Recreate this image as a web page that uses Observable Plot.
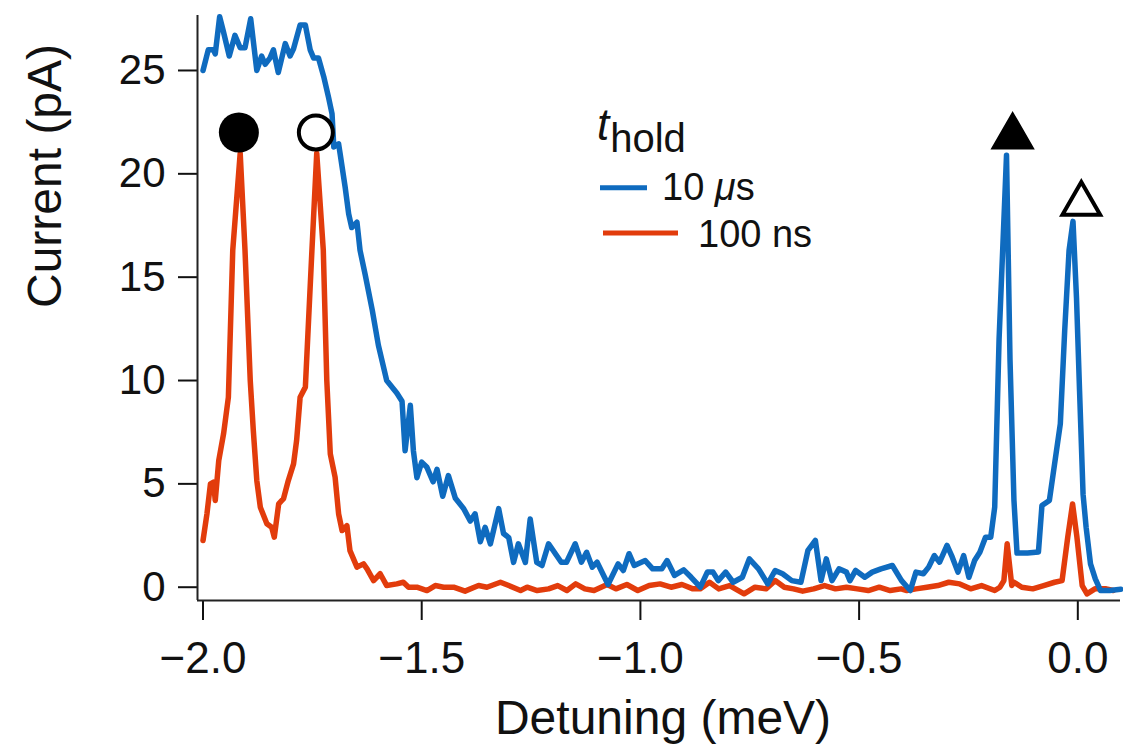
<!DOCTYPE html>
<html>
<head>
<meta charset="utf-8">
<script src="https://cdn.jsdelivr.net/npm/d3@7"></script>
<script src="https://cdn.jsdelivr.net/npm/@observablehq/plot@0.6"></script>
<style>
  html, body { margin: 0; padding: 0; background: #fff; }
  #chart svg { display: block; }
</style>
</head>
<body>
<div id="chart"></div>
<script>
// ---- data ----
const xTicks = [-2.0, -1.5, -1.0, -0.5, 0.0];
const yTicks = [0, 5, 10, 15, 20, 25];
const xDomain = [-2.0126, 0.0976];
const yDomain = [-0.643, 27.66];
const xTitle = "Detuning (meV)";
const yTitle = "Current (pA)";
const seriesNames = ["10 μs", "100 ns"];

// t_hold = 10 µs (blue)
const blueX = [-2.000,-1.988,-1.976,-1.972,-1.962,-1.953,-1.940,-1.927,-1.915,-1.904,-1.891,-1.877,-1.866,-1.858,-1.847,-1.839,-1.828,-1.812,-1.801,-1.793,-1.778,-1.766,-1.755,-1.747,-1.736,-1.724,-1.713,-1.705,-1.701,-1.690,-1.686,-1.675,-1.667,-1.660,-1.648,-1.641,-1.629,-1.613,-1.599,-1.580,-1.557,-1.545,-1.538,-1.526,-1.519,-1.511,-1.500,-1.488,-1.474,-1.465,-1.452,-1.439,-1.423,-1.404,-1.389,-1.378,-1.366,-1.355,-1.343,-1.324,-1.313,-1.301,-1.290,-1.279,-1.263,-1.252,-1.237,-1.225,-1.210,-1.181,-1.169,-1.149,-1.135,-1.123,-1.110,-1.099,-1.074,-1.051,-1.039,-1.026,-1.014,-0.989,-0.972,-0.951,-0.939,-0.922,-0.901,-0.884,-0.863,-0.847,-0.834,-0.822,-0.805,-0.788,-0.767,-0.751,-0.730,-0.709,-0.692,-0.675,-0.654,-0.633,-0.617,-0.600,-0.587,-0.575,-0.562,-0.546,-0.529,-0.521,-0.508,-0.487,-0.470,-0.450,-0.424,-0.403,-0.383,-0.370,-0.353,-0.341,-0.328,-0.316,-0.299,-0.287,-0.274,-0.261,-0.249,-0.236,-0.224,-0.211,-0.199,-0.190,-0.180,-0.163,-0.155,-0.146,-0.139,-0.115,-0.090,-0.082,-0.065,-0.040,-0.030,-0.020,-0.011,-0.003,0.004,0.012,0.019,0.029,0.040,0.052,0.073,0.098];
const blueY = [25.0,26.0,26.0,25.8,27.6,26.85,25.7,26.7,26.1,26.1,27.5,25.0,25.7,25.3,25.6,26.0,24.9,26.3,25.7,26.05,27.2,27.2,26.0,25.6,25.6,24.7,23.7,22.9,21.3,21.45,20.9,19.35,18.06,17.4,17.66,16.3,15.1,13.4,11.7,10.0,9.4,9.0,6.6,8.8,6.6,5.3,6.05,5.8,5.1,5.7,4.4,5.4,4.3,3.8,3.2,3.55,2.2,2.9,2.1,3.8,2.6,2.4,1.2,2.1,1.2,3.3,1.2,1.05,2.1,1.21,1.21,2.1,1.21,1.69,0.97,1.21,0.13,1.13,0.81,1.62,1.05,1.29,0.89,0.89,1.29,0.57,0.84,0.48,0.0,0.73,0.73,0.32,0.73,0.24,0.48,1.37,0.89,0.16,0.81,0.65,0.32,0.24,1.78,2.26,0.32,1.37,0.32,0.89,0.73,0.32,0.81,0.48,0.73,0.89,1.05,0.32,-0.16,0.73,0.65,0.97,1.53,1.21,2.02,1.45,0.73,1.53,0.48,1.29,1.69,2.42,2.42,3.87,12.0,20.9,11.0,4.2,1.65,1.65,1.7,3.95,4.2,7.9,12.4,16.3,17.7,14.0,9.5,4.5,2.9,1.13,0.4,-0.16,-0.16,-0.1];

// t_hold = 100 ns (red)
const redX = [-2.000,-1.991,-1.983,-1.976,-1.972,-1.964,-1.953,-1.942,-1.932,-1.915,-1.904,-1.892,-1.885,-1.877,-1.869,-1.854,-1.843,-1.837,-1.827,-1.816,-1.805,-1.793,-1.786,-1.778,-1.766,-1.751,-1.740,-1.725,-1.717,-1.709,-1.698,-1.690,-1.682,-1.671,-1.664,-1.648,-1.633,-1.625,-1.610,-1.595,-1.580,-1.557,-1.542,-1.530,-1.511,-1.488,-1.469,-1.450,-1.427,-1.401,-1.370,-1.351,-1.320,-1.301,-1.274,-1.259,-1.236,-1.210,-1.189,-1.168,-1.148,-1.127,-1.106,-1.076,-1.056,-1.031,-1.006,-0.980,-0.955,-0.930,-0.905,-0.880,-0.863,-0.842,-0.821,-0.796,-0.763,-0.738,-0.713,-0.692,-0.671,-0.650,-0.629,-0.604,-0.579,-0.554,-0.529,-0.504,-0.479,-0.454,-0.429,-0.404,-0.391,-0.370,-0.345,-0.320,-0.295,-0.270,-0.245,-0.220,-0.190,-0.178,-0.169,-0.1615,-0.151,-0.146,-0.128,-0.103,-0.078,-0.053,-0.036,-0.023,-0.012,-0.002,0.010,0.021,0.039,0.065,0.081];
const redY = [2.26,3.55,5.0,5.08,4.2,6.13,7.42,9.19,16.3,21.0,16.3,10.0,7.58,5.16,3.87,3.07,2.9,2.42,4.03,4.28,5.16,5.97,7.1,9.19,9.68,16.3,21.0,16.3,10.0,6.45,5.32,3.55,2.74,2.98,1.77,0.97,1.13,0.89,0.32,0.65,0.08,0.16,0.24,0.0,0.0,-0.16,0.08,0.0,0.0,-0.19,0.08,0.0,0.24,0.08,-0.16,0.0,-0.16,-0.08,0.08,-0.16,0.16,-0.08,-0.16,0.13,-0.08,0.13,-0.16,0.08,0.16,0.0,0.13,-0.08,-0.08,0.24,-0.08,0.08,-0.32,0.0,-0.08,0.32,0.0,-0.08,-0.19,-0.08,0.08,-0.08,0.0,-0.08,-0.16,0.0,-0.16,-0.08,-0.16,-0.08,0.0,0.08,0.24,0.16,-0.08,0.08,-0.16,0.0,0.32,2.1,0.08,0.24,0.0,-0.08,0.08,0.24,0.32,2.42,4.03,2.42,0.08,-0.32,-0.08,-0.08,-0.16];

// peak markers: filled circle, open circle, filled triangle, open triangle
const markerX = [-1.918, -1.742, -0.149, 0.008];
const markerY = [22.0, 22.0, 21.8, 18.55];

// ---- build tables ----
const blue = blueX.map((x, i) => ({x, y: blueY[i]}));
const red = redX.map((x, i) => ({x, y: redY[i]}));
const markers = markerX.map((x, i) => ({x, y: markerY[i]}));

const BLUE = "#0f6bbf";
const RED = "#e23c0c";
const FONT = "'Liberation Sans', Arial, Helvetica, sans-serif";

const chart = Plot.plot({
  width: 1123,
  height: 744,
  marginLeft: 197,
  marginRight: 3,
  marginTop: 15,
  marginBottom: 144,
  x: {domain: xDomain},
  y: {domain: yDomain},
  style: {fontFamily: FONT, color: "#111", background: "#fff", overflow: "visible"},
  marks: [
    Plot.axisX({ticks: xTicks, tickSize: 20, tickPadding: 21, fontSize: 44, strokeWidth: 2,
      tickFormat: d3.format(".1f"), label: null}),
    Plot.axisY({ticks: yTicks, tickSize: 19, tickPadding: 13, fontSize: 42, strokeWidth: 2,
      tickFormat: d3.format("d"), label: null}),
    Plot.ruleX([xDomain[0]], {y1: yDomain[0], y2: yDomain[1], stroke: "#222", strokeWidth: 2}),
    Plot.ruleY([yDomain[0]], {x1: xDomain[0], x2: xDomain[1], stroke: "#222", strokeWidth: 2}),
    Plot.line(red, {x: "x", y: "y", stroke: RED, strokeWidth: 5.5, strokeLinejoin: "round", curve: "linear"}),
    Plot.line(blue, {x: "x", y: "y", stroke: BLUE, strokeWidth: 5.5, strokeLinejoin: "round", curve: "linear"}),
    Plot.dot([markers[0]], {x: "x", y: "y", r: 20, fill: "black", symbol: "circle"}),
    Plot.dot([markers[1]], {x: "x", y: "y", r: 17, fill: "white", stroke: "black", strokeWidth: 4, symbol: "circle"}),
    Plot.dot([markers[2]], {x: "x", y: "y", r: 15.5, fill: "black", stroke: "black", strokeWidth: 1.5, symbol: "triangle"}),
    Plot.dot([markers[3]], {x: "x", y: "y", r: 14, fill: "white", stroke: "black", strokeWidth: 4, strokeLinejoin: "miter", symbol: "triangle"}),
    Plot.text([xTitle], {text: d => d, frameAnchor: "bottom", dy: 133, dx: 4, lineAnchor: "bottom", fontSize: 48, fill: "#111"}),
    Plot.text([yTitle], {text: d => d, frameAnchor: "left", rotate: -90, dx: -137, lineAnchor: "bottom", fontSize: 48, fill: "#111"})
  ]
});

// ---- legend (t_hold) inside the plot ----
const svg = d3.select(chart);
const lg = svg.append("g").attr("font-family", FONT).attr("fill", "#111").attr("text-anchor", "start");
const title = lg.append("text").attr("x", 597).attr("y", 140);
title.append("tspan").attr("font-style", "italic").attr("font-size", 44).text("t");
title.append("tspan").attr("font-size", 40).attr("dy", 12).attr("dx", 1).text("hold");

lg.append("line").attr("x1", 600).attr("x2", 647).attr("y1", 187.7).attr("y2", 187.7)
  .attr("stroke", BLUE).attr("stroke-width", 5);
const t1 = lg.append("text").attr("x", 662).attr("y", 200).attr("font-size", 38);
t1.append("tspan").text("10 ");
t1.append("tspan").attr("font-style", "italic").text("μ");
t1.append("tspan").text("s");

lg.append("line").attr("x1", 603).attr("x2", 678).attr("y1", 233).attr("y2", 233)
  .attr("stroke", RED).attr("stroke-width", 5);
lg.append("text").attr("x", 698).attr("y", 247).attr("font-size", 38).text(seriesNames[1]);

document.getElementById("chart").appendChild(chart);
</script>
</body>
</html>
